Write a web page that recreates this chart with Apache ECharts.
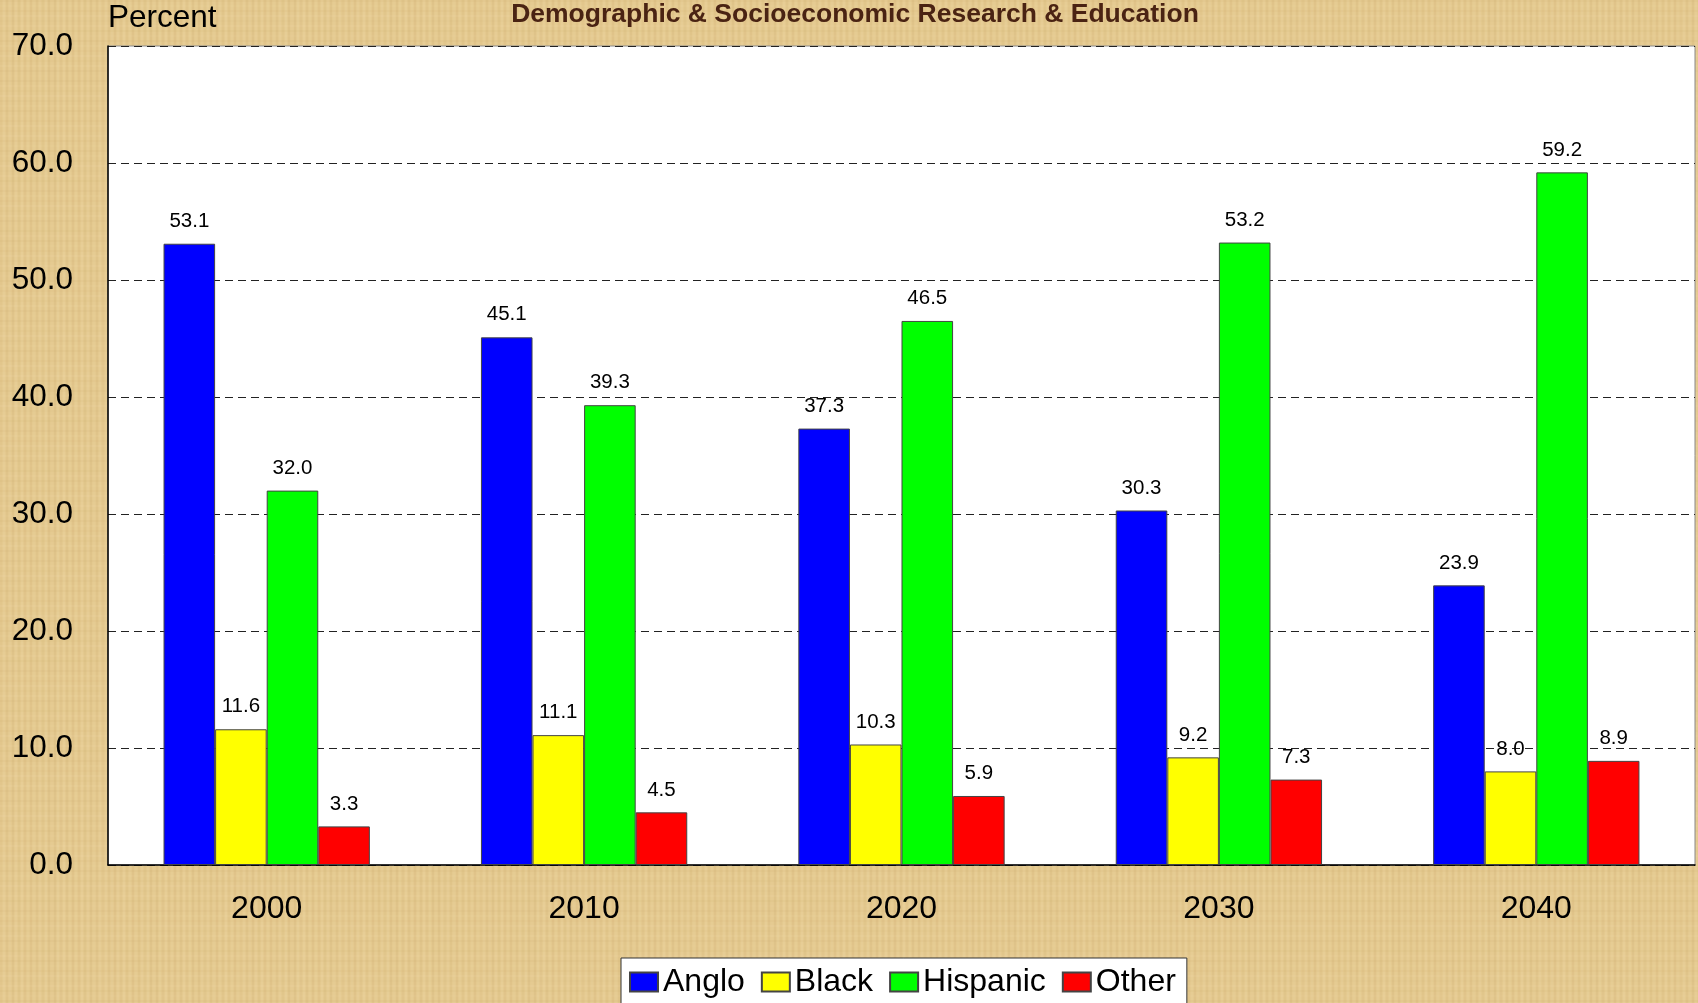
<!DOCTYPE html>
<html>
<head>
<meta charset="utf-8">
<script src="https://cdn.jsdelivr.net/npm/echarts@6/dist/echarts.min.js"></script>
<style>
  html, body { margin: 0; padding: 0; }
  #chart { width: 1698px; height: 1003px; }
</style>
</head>
<body>
<div id="chart"></div>
<script>
var years = ['2000', '2010', '2020', '2030', '2040'];
var anglo = [53.1, 45.1, 37.3, 30.3, 23.9];
var black = [11.6, 11.1, 10.3, 9.2, 8.0];
var hispanic = [32.0, 39.3, 46.5, 53.2, 59.2];
var other = [3.3, 4.5, 5.9, 7.3, 8.9];

// parchment-like background tile
var tile = document.createElement('canvas');
tile.width = 240; tile.height = 240;
var ctx = tile.getContext('2d');
ctx.fillStyle = '#e4c98f';
ctx.fillRect(0, 0, 240, 240);
for (var i = 0; i < 240; i += 3) {
    var a = 0.05 + 0.06 * Math.abs(Math.sin(i * 0.37));
    ctx.fillStyle = 'rgba(' + (i % 2 ? '255,240,200' : '190,150,90') + ',' + a + ')';
    ctx.fillRect(i, 0, 2, 240);
}
for (var j = 0; j < 240; j += 5) {
    var b = 0.04 + 0.05 * Math.abs(Math.cos(j * 0.23));
    ctx.fillStyle = 'rgba(' + (j % 2 ? '250,235,195' : '200,165,100') + ',' + b + ')';
    ctx.fillRect(0, j, 240, 2);
}

var myChart = echarts.init(document.getElementById('chart'));

function bar(name, data, color) {
    return {
        name: name,
        type: 'bar',
        data: data,
        barGap: '0%',
        barCategoryGap: '35%',
        itemStyle: { color: color, borderColor: '#444', borderWidth: 1 },
        label: {
            show: true,
            position: 'top',
            distance: 12,
            color: '#000',
            fontSize: 20.5,
            fontFamily: 'Liberation Sans',
            formatter: function (p) { return p.value.toFixed(1); }
        }
    };
}

myChart.setOption({
    backgroundColor: { image: tile, repeat: 'repeat' },
    animation: false,
    textStyle: { fontFamily: 'Liberation Sans' },
    title: {
        text: 'Demographic & Socioeconomic Research & Education',
        left: 850,
        textAlign: 'center',
        top: -4,
        textStyle: { fontSize: 26.5, fontWeight: 'bold', color: '#4a2313', fontFamily: 'Liberation Sans' }
    },
    legend: {
        data: ['Anglo', 'Black', 'Hispanic', 'Other'],
        icon: 'rect',
        left: 621,
        top: 958,
        itemWidth: 28,
        itemHeight: 19,
        itemGap: 16,
        padding: [8, 11, 8, 8],
        backgroundColor: '#fff',
        borderColor: '#333',
        borderWidth: 1,
        borderRadius: 0,
        textStyle: { fontSize: 32, color: '#000' }
    },
    grid: {
        left: 108,
        right: 3,
        top: 46,
        bottom: 138,
        show: true,
        backgroundColor: '#fff',
        borderColor: '#888',
        borderWidth: 1
    },
    xAxis: {
        type: 'category',
        data: years,
        axisLine: { lineStyle: { color: '#000', width: 1.5 } },
        axisTick: { show: false },
        axisLabel: { fontSize: 32, color: '#000', margin: 28 }
    },
    yAxis: {
        type: 'value',
        min: 0,
        max: 70,
        interval: 10,
        name: 'Percent',
        nameLocation: 'end',
        nameGap: 12,
        nameTextStyle: { fontSize: 31.5, color: '#000', align: 'left', verticalAlign: 'bottom' },
        axisLine: { show: true, lineStyle: { color: '#000', width: 1.5 } },
        axisTick: { show: false },
        axisLabel: {
            fontSize: 31.5,
            color: '#000',
            margin: 35,
            formatter: function (v) { return v.toFixed(1); }
        },
        splitLine: { lineStyle: { color: '#222', type: [8, 5], width: 1 } }
    },
    series: [
        bar('Anglo', anglo, '#0000ff'),
        bar('Black', black, '#ffff00'),
        bar('Hispanic', hispanic, '#00ff00'),
        bar('Other', other, '#ff0000')
    ]
});
</script>
</body>
</html>
